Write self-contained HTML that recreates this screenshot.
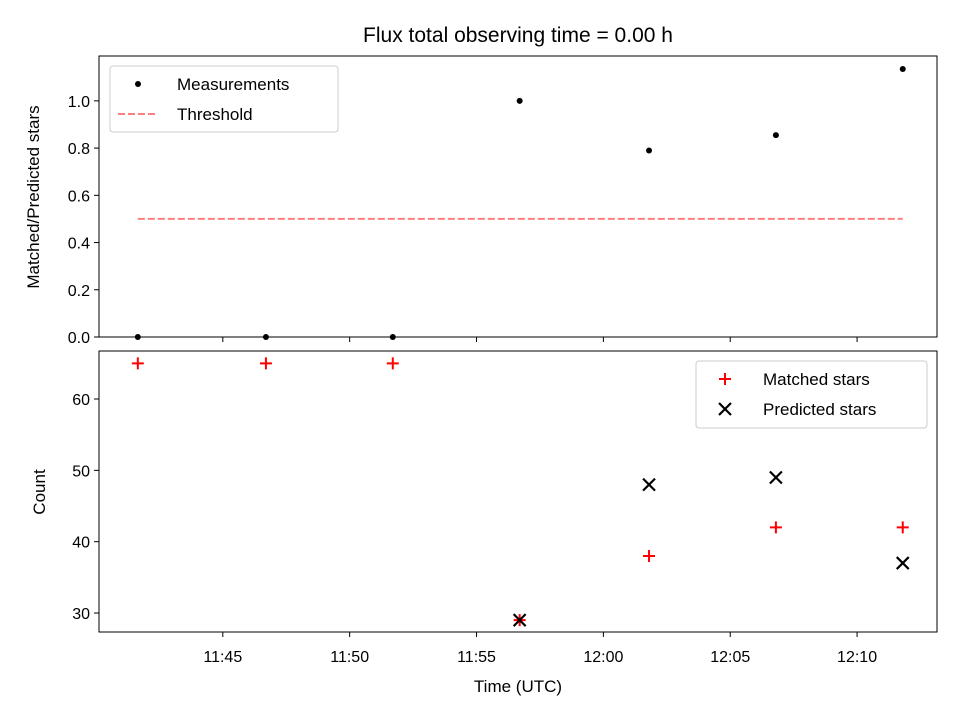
<!DOCTYPE html>
<html><head><meta charset="utf-8"><style>
body{margin:0;background:#fff}
svg text{font-family:"Liberation Sans","DejaVu Sans",sans-serif;fill:#000}
</style></head><body>
<svg width="960" height="720" viewBox="0 0 960 720" xmlns="http://www.w3.org/2000/svg">
<rect width="960" height="720" fill="#fff"/>
<g id="gtop"></g><g id="gbot"></g>
<text x="518" y="42" font-size="21" text-anchor="middle">Flux total observing time = 0.00 h</text>
<text x="518" y="692" font-size="17" text-anchor="middle">Time (UTC)</text>
<text transform="translate(39,197) rotate(-90)" font-size="17" text-anchor="middle">Matched/Predicted stars</text>
<text transform="translate(45,492) rotate(-90)" font-size="17" text-anchor="middle">Count</text>
</svg>
<script>
// minutes after 11:00
const times=[41.65,46.7,51.7,56.7,61.8,66.8,71.8];
const ratios=[0,0,0,1.0,0.79,0.855,1.135];
const threshold=0.5;
const matched=[65,65,65,29,38,42,42];
const predicted=[null,null,null,29,48,49,37];
const xTickVals=[45,50,55,60,65,70];
const xTickLabels=["11:45","11:50","11:55","12:00","12:05","12:10"];
const topTicks=[0,0.2,0.4,0.6,0.8,1.0];
const botTicks=[30,40,50,60];
(function(){
const NS="http://www.w3.org/2000/svg";
const X0=99,X1=937,xmin=40.12,xmax=73.15;
const xs=v=>X0+(v-xmin)/(xmax-xmin)*(X1-X0);
const yT=v=>337-(v-0)/(1.19)*(337-56);
const yB=v=>632-(v-27.34)/(66.73-27.34)*(632-351);
function mk(p,tag,a){const e=document.createElementNS(NS,tag);for(const k in a)e.setAttribute(k,a[k]);p.appendChild(e);return e;}
const gTop=document.getElementById('gtop'),gBot=document.getElementById('gbot');
function frame(g,yt,yb,name){
  const r=mk(g,'rect',{x:X0,y:yt,width:X1-X0,height:yb-yt,fill:'none',stroke:'#000','stroke-width':1});
  
  
  xTickVals.forEach((v,i)=>{
    const t=mk(g,'line',{x1:xs(v),x2:xs(v),y1:yb,y2:yb+5,stroke:'#000'});
    
    
  });
}
frame(gTop,56,337,'top-plot-area');
frame(gBot,351,632,'bottom-plot-area');
xTickVals.forEach((v,i)=>{
  const t=mk(gBot,'text',{x:xs(v),y:662,'font-size':16,'text-anchor':'middle'});t.textContent=xTickLabels[i];
  
  
});
topTicks.forEach(v=>{
  const y=yT(v);mk(gTop,'line',{x1:X0-5,x2:X0,y1:y,y2:y,stroke:'#000'});
  const t=mk(gTop,'text',{x:X0-9,y:y+6,'font-size':16,'text-anchor':'end'});t.textContent=v.toFixed(1);
  
  
});
botTicks.forEach(v=>{
  const y=yB(v);mk(gBot,'line',{x1:X0-5,x2:X0,y1:y,y2:y,stroke:'#000'});
  const t=mk(gBot,'text',{x:X0-9,y:y+6,'font-size':16,'text-anchor':'end'});t.textContent=v;
  
  
});
const th=mk(gTop,'line',{x1:xs(times[0]),x2:xs(times[times.length-1]),y1:yT(threshold),y2:yT(threshold),stroke:'#ff7f7f','stroke-width':2,'stroke-dasharray':'7,3'});


times.forEach((t,i)=>{
  const c=mk(gTop,'circle',{cx:xs(t),cy:yT(ratios[i]),r:3,fill:'#000'});
  
  
  const x=xs(t),y=yB(matched[i]);
  const p=mk(gBot,'path',{d:`M${x-6},${y}H${x+6}M${x},${y-6}V${y+6}`,stroke:'#f00','stroke-width':2});
  
  
  if(predicted[i]!=null){
    const y2=yB(predicted[i]);
    const q=mk(gBot,'path',{d:`M${x-6},${y2-6}L${x+6},${y2+6}M${x-6},${y2+6}L${x+6},${y2-6}`,stroke:'#000','stroke-width':2.2});
    
    
  }
});
const l1=mk(gTop,'g',{});


mk(l1,'rect',{x:110,y:66,width:228,height:66,rx:3,fill:'#fff',stroke:'#ccc'});
mk(l1,'circle',{cx:138,cy:84,r:3,fill:'#000'});
let t=mk(l1,'text',{x:177,y:90,'font-size':17});t.textContent='Measurements';
mk(l1,'line',{x1:118,x2:158,y1:114,y2:114,stroke:'#ff7f7f','stroke-width':2,'stroke-dasharray':'7,3'});
t=mk(l1,'text',{x:177,y:120,'font-size':17});t.textContent='Threshold';
const l2=mk(gBot,'g',{});


mk(l2,'rect',{x:696,y:361,width:231,height:67,rx:3,fill:'#fff',stroke:'#ccc'});
mk(l2,'path',{d:'M719,379H731M725,373V385',stroke:'#f00','stroke-width':2});
t=mk(l2,'text',{x:763,y:385,'font-size':17});t.textContent='Matched stars';
mk(l2,'path',{d:'M719,403L731,415M719,415L731,403',stroke:'#000','stroke-width':2.2});
t=mk(l2,'text',{x:763,y:415,'font-size':17});t.textContent='Predicted stars';
})();
</script>
</body></html>
